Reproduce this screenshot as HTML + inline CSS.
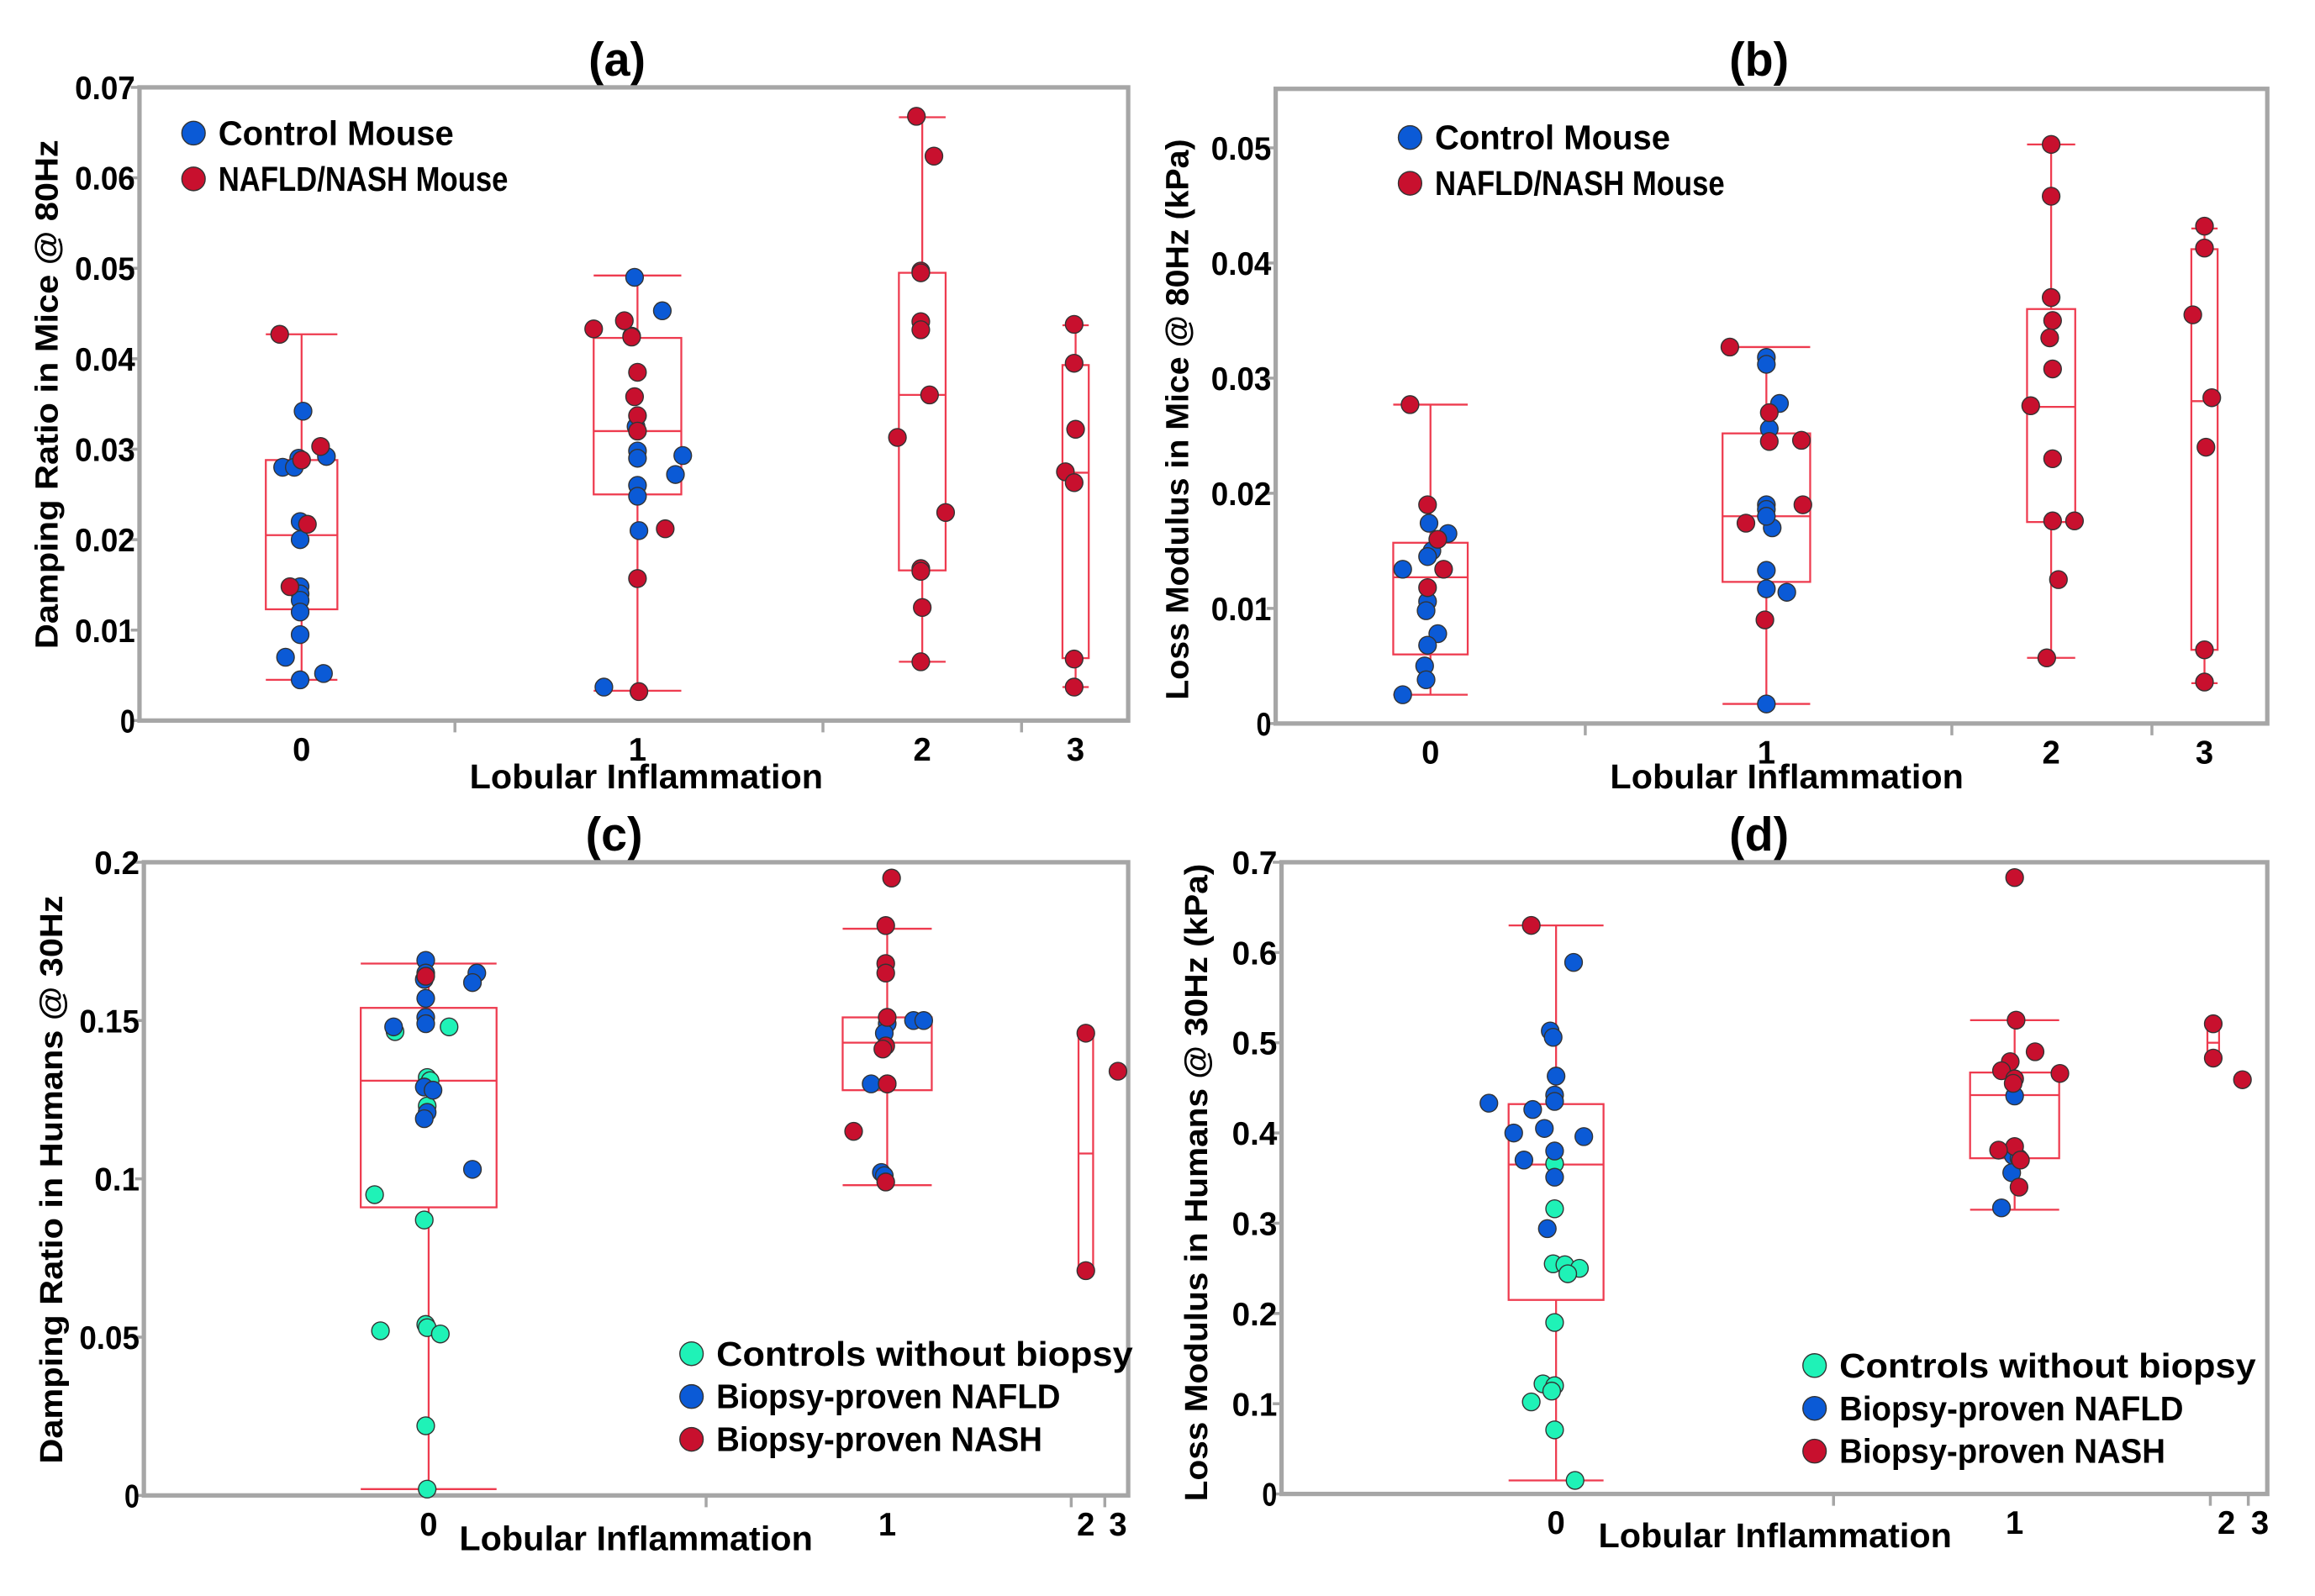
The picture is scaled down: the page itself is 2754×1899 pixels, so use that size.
<!DOCTYPE html>
<html><head><meta charset="utf-8"><style>
html,body{margin:0;padding:0;background:#fff;}
svg{display:block;font-family:"Liberation Sans",sans-serif;}
</style></head><body>
<svg id="fig" width="2754" height="1899" viewBox="0 0 1550 1069" preserveAspectRatio="none" xmlns="http://www.w3.org/2000/svg"><g id="root" transform="matrix(0.9778 0 0 0.9886 7.35 -0.8)"></g></svg>
<script>
// ---------- Data ----------
const categories = ["0","1","2","3"];
const legendMice = ["Control Mouse","NAFLD/NASH Mouse"];
const legendHumans = ["Controls without biopsy","Biopsy-proven NAFLD","Biopsy-proven NASH"];

const ticksA = ["0","0.01","0.02","0.03","0.04","0.05","0.06","0.07"];
const ticksB = ["0","0.01","0.02","0.03","0.04","0.05"];
const ticksC = ["0","0.05","0.1","0.15","0.2"];
const ticksD = ["0","0.1","0.2","0.3","0.4","0.5","0.6","0.7"];

// boxes: [cat, lowWhisker, q1, median, q3, highWhisker]
const boxesA = [[0,0.0045,0.0123,0.0205,0.0288,0.0427],[1,0.0033,0.025,0.032,0.0423,0.0492],[2,0.0065,0.0166,0.036,0.0495,0.0667],[3,0.0037,0.0069,0.0274,0.0393,0.0437]];
const boxesB = [[0,0.0025,0.006,0.0127,0.0157,0.0277],[1,0.0017,0.0123,0.018,0.0252,0.0327],[2,0.0057,0.0175,0.0275,0.036,0.0503],[3,0.0035,0.0064,0.028,0.0412,0.043]];
const boxesC = [[0,0.002,0.091,0.131,0.154,0.168],[1,0.098,0.128,0.143,0.151,0.179],[2,0.071,0.071,0.108,0.146,0.146]];
const boxesD = [[0,0.015,0.215,0.365,0.432,0.63],[1,0.315,0.372,0.442,0.467,0.525],[2,0.484,0.484,0.5,0.519,0.52]];

// points: [cat, value, jitter]
const aBlue = [[0,0.0342,1],[0,0.029,-2],[0,0.028,-13],[0,0.028,-5],[0,0.0292,17],[0,0.022,-1],[0,0.020,-1],[0,0.0148,-1],[0,0.014,-1],[0,0.0133,-1],[0,0.012,-1],[0,0.0095,-1],[0,0.007,-11],[0,0.0052,15],[0,0.0045,-1],
 [1,0.049,-2],[1,0.0453,17],[1,0.0425,-4],[1,0.0325,-1],[1,0.0298,0],[1,0.029,0],[1,0.0293,31],[1,0.0272,26],[1,0.026,0],[1,0.0248,0],[1,0.021,1],[1,0.0037,-23]];
const aRed = [[0,0.0427,-15],[0,0.0303,13],[0,0.0288,0],[0,0.0217,4],[0,0.0148,-8],
 [1,0.0433,-30],[1,0.0442,-9],[1,0.0424,-4],[1,0.0385,0],[1,0.0358,-2],[1,0.0337,0],[1,0.032,0],[1,0.0212,19],[1,0.0157,0],[1,0.0032,1],
 [2,0.0668,-4],[2,0.0624,8],[2,0.0497,-1],[2,0.0495,-1],[2,0.0441,-1],[2,0.0432,-1],[2,0.036,5],[2,0.0313,-17],[2,0.023,16],[2,0.0168,-1],[2,0.0165,-1],[2,0.0125,0],[2,0.0065,-1],
 [3,0.0438,-1],[3,0.0395,-1],[3,0.0322,0],[3,0.0275,-7],[3,0.0263,-1],[3,0.0068,-1],[3,0.0037,-1]];
const bBlue = [[0,0.0174,-1],[0,0.0165,12],[0,0.015,1],[0,0.0145,-2],[0,0.0134,-19],[0,0.0106,-2],[0,0.0078,5],[0,0.0098,-3],[0,0.0068,-2],[0,0.005,-4],[0,0.0038,-3],[0,0.0025,-19],
 [1,0.0318,0],[1,0.0312,0],[1,0.0278,9],[1,0.0256,2],[1,0.019,0],[1,0.0186,0],[1,0.017,4],[1,0.0133,0],[1,0.0117,0],[1,0.0114,14],[1,0.0017,0],[1,0.018,0]];
const bRed = [[0,0.0277,-14],[0,0.019,-2],[0,0.016,5],[0,0.0118,-2],[0,0.0134,9],
 [1,0.0327,-25],[1,0.027,2],[1,0.0246,24],[1,0.019,25],[1,0.0174,-14],[1,0.009,-1],[1,0.0245,2],
 [2,0.0503,0],[2,0.0458,0],[2,0.037,0],[2,0.035,1],[2,0.0335,-1],[2,0.0308,1],[2,0.0276,-14],[2,0.023,1],[2,0.0176,1],[2,0.0176,16],[2,0.0125,5],[2,0.0057,-3],
 [3,0.0432,0],[3,0.0413,0],[3,0.0355,-8],[3,0.0283,5],[3,0.024,1],[3,0.0064,0],[3,0.0036,0]];
const cGreen = [[0,0.1465,-23],[0,0.148,14],[0,0.132,-1],[0,0.131,1],[0,0.123,-1],[0,0.095,-37],[0,0.087,-3],[0,0.052,-33],[0,0.054,-2],[0,0.053,-1],[0,0.051,8],[0,0.022,-2],[0,0.002,-1]];
const cBlue = [[0,0.169,-2],[0,0.165,-2],[0,0.163,-3],[0,0.165,33],[0,0.162,30],[0,0.157,-2],[0,0.151,-2],[0,0.148,-24],[0,0.149,-2],[0,0.129,-3],[0,0.128,3],[0,0.121,-1],[0,0.119,-3],[0,0.103,30],
 [1,0.149,0],[1,0.15,18],[1,0.15,25],[1,0.146,-2],[1,0.13,-11],[1,0.13,0],[1,0.102,-4],[1,0.101,-2]];
const cRed = [[0,0.164,-2],
 [1,0.195,3],[1,0.18,-1],[1,0.168,-1],[1,0.165,-1],[1,0.151,0],[1,0.142,-1],[1,0.141,-3],[1,0.13,0],[1,0.115,-23],[1,0.099,-1],
 [2,0.146,0],[2,0.071,0],[3,0.134,0]];
const dGreen = [[0,0.366,-1],[0,0.316,-1],[0,0.255,-2],[0,0.254,6],[0,0.25,16],[0,0.244,8],[0,0.19,-1],[0,0.122,-9],[0,0.12,-1],[0,0.114,-3],[0,0.102,-17],[0,0.071,-1],[0,0.015,13]];
const dBlue = [[0,0.589,12],[0,0.513,-4],[0,0.506,-2],[0,0.463,0],[0,0.442,-1],[0,0.435,-1],[0,0.433,-46],[0,0.426,-16],[0,0.405,-8],[0,0.4,-29],[0,0.396,19],[0,0.38,-1],[0,0.37,-22],[0,0.351,-1],[0,0.294,-6],
 [1,0.441,0],[1,0.375,-1],[1,0.372,3],[1,0.356,-2],[1,0.317,-9]];
const dRed = [[0,0.63,-17],
 [1,0.683,0],[1,0.525,1],[1,0.49,14],[1,0.479,-3],[1,0.469,-9],[1,0.466,31],[1,0.46,0],[1,0.455,-1],[1,0.385,0],[1,0.381,-11],[1,0.37,4],[1,0.34,3],
 [2,0.521,-9],[2,0.483,-9],[3,0.459,-12]];

// ---------- Rendering ----------
const NS="http://www.w3.org/2000/svg";
const svg=document.getElementById('root');
const BLUE="#0b5ad6", RED="#c8102e", GREEN="#1ff2b7", BOXC="#ee3b4f", FRAME="#a6a6a6";
function mk(tag,attrs,parent){const e=document.createElementNS(NS,tag);for(const k in attrs)e.setAttribute(k,attrs[k]);(parent||svg).appendChild(e);return e;}

function panel(cfg){
  const g=mk('g',{});
  
  
  const yS=v=>cfg.y0-(v-0)*(cfg.y0-cfg.yTop)/cfg.yMax;
  const xS=c=>cfg.catX[c];
  const t=mk('text',{x:cfg.titleX,y:cfg.titleY,'font-size':32,'font-weight':'bold','text-anchor':'middle'},g);t.textContent=cfg.title;
  
  const fr=mk('rect',{x:cfg.L,y:cfg.T,width:cfg.R-cfg.L,height:cfg.y0-cfg.T,fill:'none',stroke:FRAME,'stroke-width':3},g);
  
  cfg.ticks.forEach(s=>{const v=parseFloat(s);const y=yS(v);
    mk('line',{x1:cfg.L-6,x2:cfg.L,y1:y,y2:y,stroke:FRAME,'stroke-width':2},g);
    const tx=mk('text',{x:cfg.L-3,y:y+8,'font-size':22,'font-weight':'bold','text-anchor':'end',textLength:(s.length*10.3),lengthAdjust:'spacingAndGlyphs'},g);tx.textContent=s;
    });
  cfg.seps.forEach(x=>mk('line',{x1:x,x2:x,y1:cfg.y0,y2:cfg.y0+8,stroke:FRAME,'stroke-width':2},g));
  categories.forEach((c,i)=>{const tx=mk('text',{x:xS(i),y:cfg.y0+27,'font-size':22,'font-weight':'bold','text-anchor':'middle'},g);tx.textContent=c;
    });
  const xl=mk('text',{x:cfg.xlX,y:cfg.xlY,'font-size':23,'font-weight':'bold','text-anchor':'middle',textLength:242,lengthAdjust:'spacingAndGlyphs'},g);xl.textContent="Lobular Inflammation";
  
  const yl=mk('text',{x:0,y:0,'font-size':22,'font-weight':'bold','text-anchor':'middle',textLength:cfg.ylLen,lengthAdjust:'spacingAndGlyphs',transform:`translate(${cfg.ylX},${cfg.ylY}) rotate(-90)`},g);yl.textContent=cfg.ylabel;
  
  cfg.boxes.forEach((b,i)=>{const cx=xS(b[0])+(cfg.boxShift?cfg.boxShift[b[0]]:0),hw=cfg.boxW[b[0]]/2;
    const bg=mk('g',{stroke:BOXC,'stroke-width':1.3,fill:'none'},g);
    
    mk('line',{x1:cx,x2:cx,y1:yS(b[1]),y2:yS(b[2])},bg);
    mk('line',{x1:cx,x2:cx,y1:yS(b[4]),y2:yS(b[5])},bg);
    mk('line',{x1:cx-hw,x2:cx+hw,y1:yS(b[1]),y2:yS(b[1])},bg);
    mk('line',{x1:cx-hw,x2:cx+hw,y1:yS(b[5]),y2:yS(b[5])},bg);
    mk('rect',{x:cx-hw,y:yS(b[4]),width:2*hw,height:yS(b[2])-yS(b[4])},bg);
    mk('line',{x1:cx-hw,x2:cx+hw,y1:yS(b[3]),y2:yS(b[3])},bg);
  });
  cfg.series.forEach(s=>{s.pts.forEach(p=>{
    const c=mk('circle',{cx:xS(p[0])+p[2],cy:yS(p[1]),r:6,fill:s.color,stroke:'#333','stroke-width':0.8},g);
    
    
  });});
  cfg.legend.forEach((l,i)=>{
    const y=cfg.legY+i*cfg.legDy;
    const c=mk('circle',{cx:cfg.legX,cy:y,r:8,fill:l[1],stroke:'#333','stroke-width':0.8},g);
    
    const tx=mk('text',{x:cfg.legX+17,y:y+8,'font-size':23,'font-weight':'bold',textLength:(l[0].length*12.4),lengthAdjust:'spacingAndGlyphs'},g);tx.textContent=l[0];
    
  });
}

panel({name:'panel-a',title:'(a)',titleX:415,titleY:52,L:88,R:765,T:60,y0:489,yTop:60,yMax:0.07,ticks:ticksA,
  catX:[199,429,624,729],seps:[304,556,692],boxW:[49,60,32,18],xlX:435,xlY:535,ylX:32,ylY:268,ylLen:345,
  ylabel:'Damping Ratio in Mice @ 80Hz',boxes:boxesA,
  series:[{name:'control-mouse',color:BLUE,pts:aBlue},{name:'nafld-nash-mouse',color:RED,pts:aRed}],
  legend:[[legendMice[0],BLUE],[legendMice[1],RED]],legX:125,legY:91,legDy:31});
panel({name:'panel-b',title:'(b)',titleX:1197,titleY:52,L:866,R:1545,T:61,y0:491,yTop:101,yMax:0.05,ticks:ticksB,
  catX:[972,1202,1397,1502],seps:[1078,1329,1466],boxW:[51,60,33,18],xlX:1216,xlY:535,ylX:806,ylY:285,ylLen:380,
  ylabel:'Loss Modulus in Mice @ 80Hz (kPa)',boxes:boxesB,
  series:[{name:'control-mouse',color:BLUE,pts:bBlue},{name:'nafld-nash-mouse',color:RED,pts:bRed}],
  legend:[[legendMice[0],BLUE],[legendMice[1],RED]],legX:958,legY:94,legDy:31});
panel({name:'panel-c',title:'(c)',titleX:413,titleY:577,L:91,R:765,T:585,y0:1014,yTop:585,yMax:0.2,ticks:ticksC,
  catX:[286,600,736,758],seps:[476,726,749],boxW:[93,61,10,0],xlX:428,xlY:1051,ylX:35,ylY:800,ylLen:385,
  ylabel:'Damping Ratio in Humans @ 30Hz',boxes:boxesC,
  series:[{name:'controls-without-biopsy',color:GREEN,pts:cGreen},{name:'biopsy-nafld',color:BLUE,pts:cBlue},{name:'biopsy-nash',color:RED,pts:cRed}],
  legend:[[legendHumans[0],GREEN],[legendHumans[1],BLUE],[legendHumans[2],RED]],legX:466,legY:918,legDy:29});
panel({name:'panel-d',title:'(d)',titleX:1197,titleY:577,L:870,R:1545,T:585,y0:1013,yTop:585,yMax:0.7,ticks:ticksD,
  catX:[1058,1372,1517,1540],seps:[1248,1506,1532],boxW:[65,61,8,0],boxShift:[0,0,-9,0],xlX:1208,xlY:1049,ylX:819,ylY:802,ylLen:432,
  ylabel:'Loss Modulus in Humans @ 30Hz (kPa)',boxes:boxesD,
  series:[{name:'controls-without-biopsy',color:GREEN,pts:dGreen},{name:'biopsy-nafld',color:BLUE,pts:dBlue},{name:'biopsy-nash',color:RED,pts:dRed}],
  legend:[[legendHumans[0],GREEN],[legendHumans[1],BLUE],[legendHumans[2],RED]],legX:1235,legY:926,legDy:29});
</script>
</body></html>
